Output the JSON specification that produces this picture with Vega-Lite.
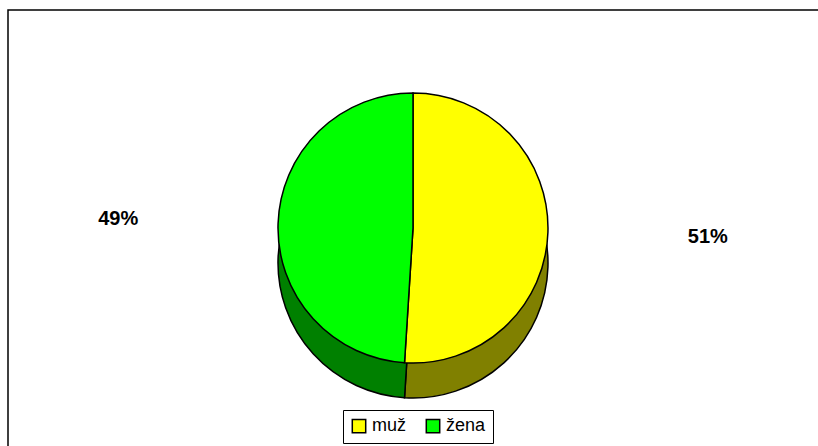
{
  "$schema": "https://vega.github.io/schema/vega-lite/v6.json",
  "width": 810,
  "height": 436,
  "autosize": {"type": "none"},
  "padding": {"left": 8, "top": 10, "right": 0, "bottom": 0},
  "background": "white",
  "view": {"stroke": "black", "strokeWidth": 1.5, "strokeDash": [810, 1246, 436]},
  "config": {
    "font": "Liberation Sans"
  },
  "data": {
    "values": [
      {"sex": "muž", "share": 51, "label": "51%", "rank": 1},
      {"sex": "žena", "share": 49, "label": "49%", "rank": 2}
    ]
  },
  "encoding": {
    "theta": {"field": "share", "type": "quantitative", "stack": true},
    "order": {"field": "rank", "type": "quantitative", "sort": "ascending"}
  },
  "layer": [
    {
      "mark": {"type": "arc", "radius": 135, "yOffset": 35, "stroke": "black", "strokeWidth": 1.5},
      "encoding": {
        "color": {
          "field": "sex", "type": "nominal",
          "scale": {"domain": ["muž", "žena"], "range": ["#808000", "#008000"]},
          "legend": null
        }
      }
    },
    {
      "mark": {"type": "arc", "radius": 135, "stroke": "black", "strokeWidth": 1.5},
      "encoding": {
        "color": {
          "field": "sex", "type": "nominal",
          "scale": {"domain": ["muž", "žena"], "range": ["#FFFF00", "#00FF00"]},
          "legend": {
            "orient": "none",
            "legendX": 335,
            "legendY": 400,
            "direction": "horizontal",
            "title": null,
            "strokeColor": "black",
            "fillColor": "white",
            "padding": 7,
            "symbolType": "square",
            "symbolSize": 180,
            "symbolStrokeColor": "black",
            "symbolStrokeWidth": 1.5,
            "labelFontSize": 18,
            "labelFont": "Liberation Sans",
            "labelColor": "black",
            "labelOffset": 4,
            "columnPadding": 16,
            "symbolOpacity": 1
          }
        }
      }
    },
    {
      "mark": {"type": "text", "radius": 295, "fontSize": 20, "fontWeight": "bold", "font": "Liberation Sans", "color": "black"},
      "encoding": {"text": {"field": "label"}}
    }
  ],
  "resolve": {"scale": {"color": "independent"}, "legend": {"color": "independent"}}
}
